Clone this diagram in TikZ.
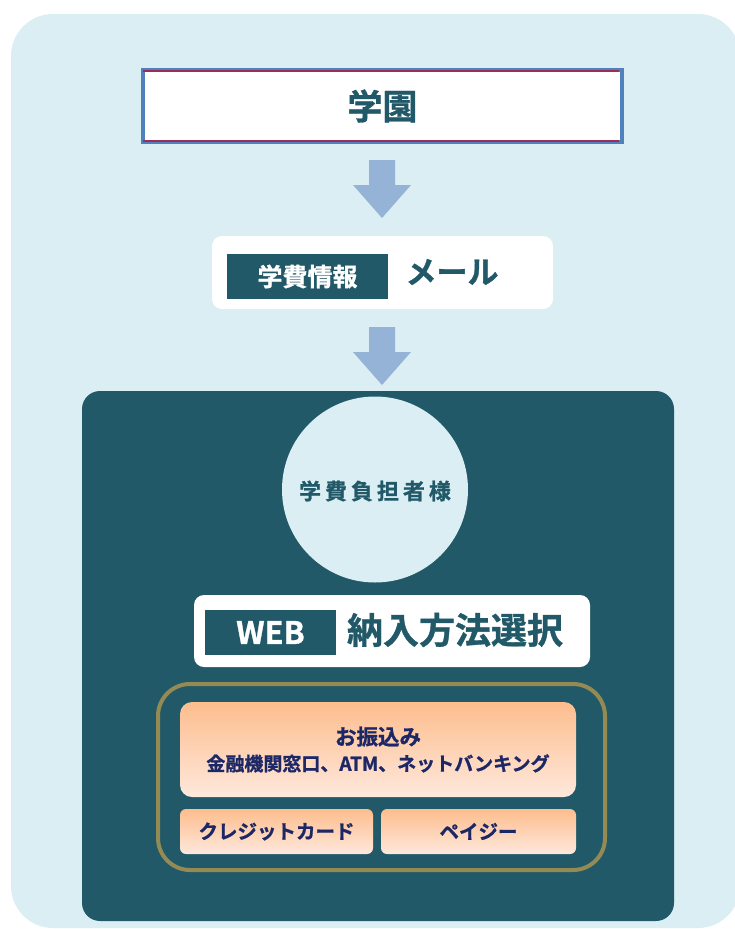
\documentclass[tikz,border=0pt]{standalone}
\usepackage{fontspec}
\setmainfont{Noto Sans CJK JP Bold}[FakeBold=1]
\newfontfamily\spacedjp{Noto Sans CJK JP Bold}[LetterSpace=18,FakeBold=1]
\definecolor{bglight}{HTML}{DAEEF3}
\definecolor{teal}{HTML}{215968}
\definecolor{arrowblue}{HTML}{95B3D7}
\definecolor{frameblue}{HTML}{4F81BD}
\definecolor{crimson}{HTML}{9B2D5C}
\definecolor{gold}{HTML}{948A54}
\definecolor{navy}{HTML}{1C2766}
\definecolor{orangetop}{HTML}{FDBD8D}
\definecolor{orangebot}{HTML}{FEE8DC}
\tikzset{
  whitebox/.style={fill=white, rounded corners=10pt},
  tagbox/.style={fill=teal, text=white, inner sep=0pt},
  orangebox/.style={top color=orangetop, bottom color=orangebot, draw=none, text=navy, align=center},
  downarrow/.style={fill=arrowblue},
}
\begin{document}
\begin{tikzpicture}[x=1pt,y=-1pt]
\useasboundingbox (0,0) rectangle (734,929);
% background
\fill[bglight, rounded corners=42pt] (11,14) rectangle (740,928);
% top box
\node[fill=white, minimum width=479pt, minimum height=72pt, inner sep=0pt] (school) at (382.5,106) {};
\draw[frameblue, line width=3.5pt] (school.north west) rectangle (school.south east);
\draw[crimson, line width=1.8pt] ([yshift=-1pt]school.north west) -- ([xshift=-3pt,yshift=-1pt]school.north east);
\draw[crimson, line width=1.8pt] ([yshift=1pt]school.south west) -- ([xshift=-3pt,yshift=1pt]school.south east);
\node[text=teal, font=\fontsize{35}{40}\selectfont] at (school.center) {学園};
% arrow 1
\coordinate (a1) at (382,160);
\fill[downarrow] (a1) ++(-13,0) -- ++(26,0) -- ++(0,25) -- ++(16,0) -- ++(-29,33) -- ++(-29,-33) -- ++(16,0) -- cycle;
% mail box
\node[whitebox, minimum width=341pt, minimum height=73pt, inner sep=0pt] (mail) at (382.5,272.5) {};
\node[tagbox, minimum width=161pt, minimum height=45pt, font=\fontsize{25}{28}\selectfont] (fee) at (307.5,276.5) {学費情報};
\node[text=teal, font=\fontsize{31}{34}\selectfont] (mailtxt) at (452,272) {メール};
% arrow 2
\coordinate (a2) at (382,327);
\fill[downarrow] (a2) ++(-13,0) -- ++(26,0) -- ++(0,25) -- ++(16,0) -- ++(-29,33) -- ++(-29,-33) -- ++(16,0) -- cycle;
% dark panel
\fill[teal, rounded corners=18pt] (82,391) rectangle (674,921);
% circle
\node[circle, fill=bglight, minimum size=186pt, inner sep=0pt] (payer) at (375,489.5) {};
\node[text=teal, font=\spacedjp\fontsize{22}{26}\selectfont] at (375,491) {学費負担者様};
% web box
\node[whitebox, minimum width=396pt, minimum height=72pt, inner sep=0pt] (web) at (392,631) {};
\node[tagbox, minimum width=131pt, minimum height=45pt, font=\fontsize{31}{34}\selectfont] (webtag) at (270.5,632.5) {WEB};
\node[text=teal, font=\fontsize{36}{40}\selectfont] (method) at (455,630) {納入方法選択};
% gold frame
\draw[gold, line width=4pt, rounded corners=32pt] (158,684) rectangle (605,870);
% orange boxes
\node[orangebox, rounded corners=12pt, minimum width=396pt, minimum height=95pt, inner sep=0pt, font=\fontsize{19}{26}\selectfont] (transfer) at (378,749.5) {{\fontsize{21.5}{26}\selectfont お振込み}\\{\fontsize{19}{26}\selectfont 金融機関窓口、ATM、ネットバンキング}};
\node[orangebox, rounded corners=6pt, minimum width=193pt, minimum height=45pt, inner sep=0pt, font=\fontsize{19.5}{22}\selectfont] (credit) at (276.5,831.5) {クレジットカード};
\node[orangebox, rounded corners=6pt, minimum width=195pt, minimum height=45pt, inner sep=0pt, font=\fontsize{19.5}{22}\selectfont] (payeasy) at (478.5,831.5) {ペイジー};
\end{tikzpicture}
\end{document}
